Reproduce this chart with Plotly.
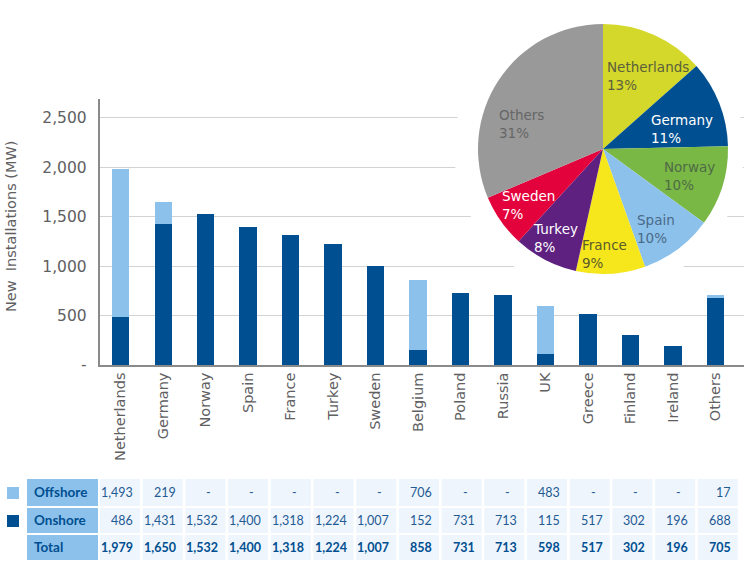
import plotly.graph_objects as go

countries = ["Netherlands", "Germany", "Norway", "Spain", "France", "Turkey", "Sweden", "Belgium",
             "Poland", "Russia", "UK", "Greece", "Finland", "Ireland", "Others"]
offshore = [1493, 219, 0, 0, 0, 0, 0, 706, 0, 0, 483, 0, 0, 0, 17]
onshore = [486, 1431, 1532, 1400, 1318, 1224, 1007, 152, 731, 713, 115, 517, 302, 196, 688]
total = [1979, 1650, 1532, 1400, 1318, 1224, 1007, 858, 731, 713, 598, 517, 302, 196, 705]
y_ticks = [0, 500, 1000, 1500, 2000, 2500]
y_ticktext = ["-", "500", "1,000", "1,500", "2,000", "2,500"]
pie_labels = ["Netherlands", "Germany", "Norway", "Spain", "France", "Turkey", "Sweden", "Others"]
pie_values = [1979, 1650, 1532, 1400, 1318, 1224, 1007, 4620]
pie_pct = ["13%", "11%", "10%", "10%", "9%", "8%", "7%", "31%"]
row_names = ["Offshore", "Onshore", "Total"]

W, H = 750, 578
C_OFF, C_ON = "#8CC1EB", "#004F91"
GREY = "#5F6062"
pie_colors = ["#D3D82B", "#004F91", "#7AB845", "#8CC1EB", "#F6E71C", "#5E2180", "#E3023C", "#999999"]
pie_text_colors = ["#5C5F3A", "#FFFFFF", "#4F6B45", "#4A6A88", "#5C5A2A", "#FFFFFF", "#FFFFFF", "#666666"]
pie_text_pos = [(605, 75.5), (649, 129), (662, 175.5), (635, 229.5), (580, 254), (531, 237.5), (500, 205.5), (497, 123.5)]

px = lambda v: v / W
py = lambda v: 1 - v / H

fig = go.Figure()
fig.add_bar(x=countries, y=onshore, name="Onshore", marker=dict(color=C_ON, line_width=0), width=0.41)
fig.add_bar(x=countries, y=offshore, name="Offshore", marker=dict(color=C_OFF, line_width=0), width=0.41)
fig.add_pie(labels=pie_labels, values=pie_values, sort=False, direction="clockwise", rotation=0,
            domain=dict(x=[px(478), px(728)], y=[py(274), py(24)]),
            marker=dict(colors=pie_colors, line_width=0), textinfo="none", showlegend=False)

shapes, ann = [], []
# white halo behind the pie, above the gridlines
shapes.append(dict(type="circle", layer="between", xref="x", yref="y", xsizemode="pixel", ysizemode="pixel",
                   xanchor="Russia", yanchor=0, x0=603 - 145 - 507, x1=603 + 145 - 507, y0=71, y1=361,
                   fillcolor="white", line_width=0))

def rect(x0, y0, x1, y1, c):
    shapes.append(dict(type="rect", xref="paper", yref="paper", x0=px(x0), x1=px(x1), y0=py(y1), y1=py(y0),
                       fillcolor=c, line_width=0, layer="below"))

rows = [(479, 506, offshore, False), (508, 533, onshore, False), (535, 560, total, True)]
rect(7, 487, 19, 499, C_OFF)
rect(7, 515, 19, 527, C_ON)
for name, (y0, y1, vals, bold) in zip(row_names, rows):
    rect(27, y0, 98, y1, "#8CC1EB")
    ann.append(dict(text=f"<b>{name}</b>", x=px(32), y=py((y0 + y1) / 2 - 0.5), xref="paper", yref="paper", xanchor="left",
                    yanchor="middle", showarrow=False, font=dict(family="Lato", size=13.5, color="#004F91")))
    for i, v in enumerate(vals):
        x0 = 100 + 42.7 * i
        rect(x0, y0, x0 + 40, y1, "#EEF5FC")
        if v:
            t = f"{v:,}"
            t = f"<b>{t}</b>" if bold else t
            xr = x0 + 35
        else:
            t, xr = "-", x0 + 28
        ann.append(dict(text=t, x=px(xr), y=py((y0 + y1) / 2), xref="paper", yref="paper", xanchor="right",
                        yanchor="middle", showarrow=False,
                        font=dict(family="Lato", size=12.5, color="#1F5A93" if not bold else "#004F91")))

for lab, pct, col, (x, y) in zip(pie_labels, pie_pct, pie_text_colors, pie_text_pos):
    ann.append(dict(text=f"{lab}<br>{pct}", x=px(x), y=py(y), xref="paper", yref="paper", xanchor="left",
                    yanchor="middle", align="left", showarrow=False,
                    font=dict(family="DejaVu Sans", size=13.5, color=col)))

ann.append(dict(text="New\u00a0\u00a0Installations (MW)", x=px(11), y=py(227), xref="paper", yref="paper",
                textangle=-90, showarrow=False, xanchor="center", yanchor="middle",
                font=dict(family="DejaVu Sans", size=14.5, color=GREY)))

fig.update_layout(
    width=W, height=H, autosize=False, margin=dict(l=0, r=0, t=0, b=0, pad=0), barmode="stack", bargap=0.59,
    paper_bgcolor="white", plot_bgcolor="white", showlegend=False, shapes=shapes, annotations=ann,
    font=dict(family="DejaVu Sans", color=GREY),
    xaxis=dict(domain=[px(99.5), px(744)], categoryorder="array", categoryarray=countries, tickangle=-90,
               automargin=False, showgrid=False, showline=True, linecolor="#8A8A8A", linewidth=1.5, ticks="",
               tickfont=dict(size=14.5, color=GREY), anchor="y"),
    yaxis=dict(domain=[py(365), py(99)], range=[0, 2692], tickvals=y_ticks, ticktext=y_ticktext,
               automargin=False, showgrid=True, gridcolor="#D2D3D5", gridwidth=1.2, zeroline=False, showline=True,
               linecolor="#8A8A8A", linewidth=1.5, ticks="", ticklabelstandoff=8,
               tickfont=dict(size=15.5, color=GREY), anchor="x"),
)
fig.write_html("out.html", config=dict(responsive=False, displayModeBar=False),
               default_width="750px", default_height="578px",
               post_script="document.body.style.margin='0';document.body.style.overflow='hidden';")
